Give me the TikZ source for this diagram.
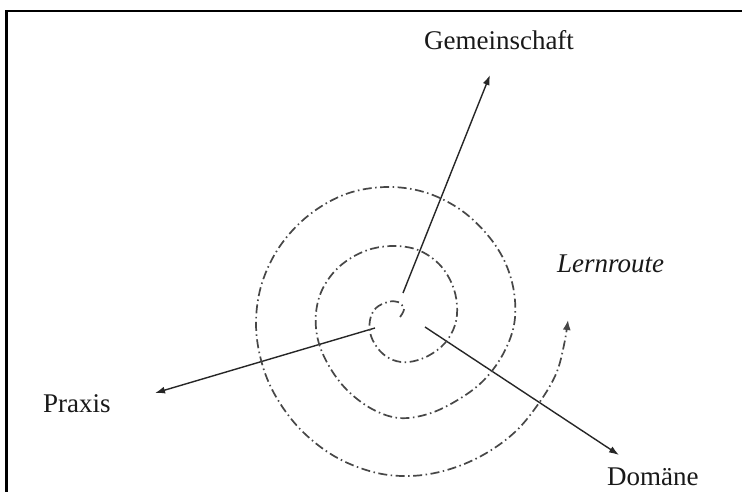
\documentclass[tikz,border=0pt]{standalone}
\usepackage{fontspec}
\setmainfont{Liberation Serif}
\usetikzlibrary{arrows.meta}
\begin{document}
\begin{tikzpicture}[x=1pt,y=-1pt,
  lbl/.style={inner sep=0pt,font=\fontsize{27}{30}\selectfont,text=black!90},
  axis/.style={line width=1.4pt,draw=black!85,-{Latex[length=10pt,width=7pt]}},
  route/.style={line width=1.7pt,draw=black!72,dash pattern=on 9pt off 3.5pt on 1.5pt off 3.5pt,-{Latex[length=10pt,width=8pt]}},
  frame/.style={line width=2.5pt,draw=black}]
\useasboundingbox (0,0) rectangle (742,492);
\fill[white] (0,0) rectangle (742,492);
\draw[frame] (6.5,500) -- (6.5,11) -- (750,11);

\node[lbl,anchor=base] (gem) at (499,50) {Gemeinschaft};
\node[lbl,anchor=base west] (pra) at (43,412) {Praxis};
\node[lbl,anchor=base west] (dom) at (607,485) {Domäne};
\node[lbl,anchor=base west,font=\fontsize{27}{30}\selectfont\itshape] (lern) at (557,272) {Lernroute};

\coordinate (gs) at (403,293);
\coordinate (gt) at (490,75);
\coordinate (ps) at (375,328);
\coordinate (pt) at (155,393);
\coordinate (ds) at (425,327);
\coordinate (dt) at (619,455);

\draw[axis] (gs) -- (gt);
\draw[axis] (ps) -- (pt);
\draw[axis] (ds) -- (dt);

\draw[route] plot[smooth,tension=0.6] coordinates {
(400,317) (404,309) (398,302) (388,302) (376,308) (370,320) (371,336) (380,351)
(393,360) (409,362) (428,356) (445,343) (455,325) (457,305) (452,284) (439,264)
(418,250) (392,246) (365,251) (340,266) (323,288) (316,313) (318,340) (329,366)
(347,390) (372,409) (399,418) (428,414) (456,401) (482,382) (502,356) (514,325)
(514,292) (504,260) (485,232) (458,208) (424,192) (386,187) (346,194) (309,215)
(280,246) (262,283) (256,322) (261,360) (275,395) (300,429) (334,456) (373,472)
(410,476) (447,470) (483,455) (515,432) (539,403) (556,374) (564,345) (568,320)};
\end{tikzpicture}
\end{document}
